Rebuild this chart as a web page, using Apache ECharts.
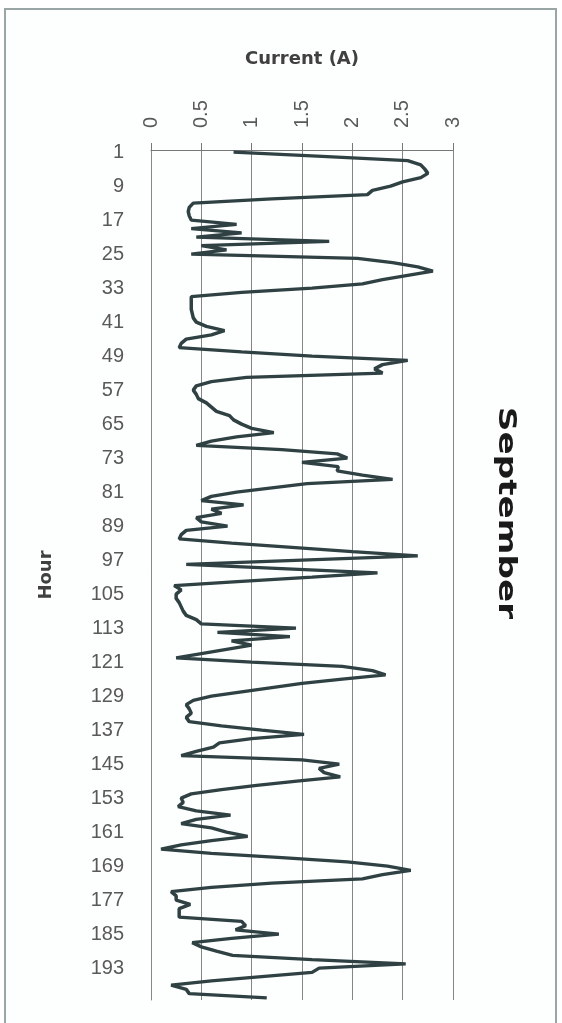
<!DOCTYPE html>
<html>
<head>
<meta charset="utf-8">
<script src="https://cdn.jsdelivr.net/npm/echarts@6/dist/echarts.min.js"></script>
<style>
  html, body { margin: 0; padding: 0; background: #fff; }
  #currentChart { width: 562px; height: 1023px; }
</style>
</head>
<body>
<div id="currentChart"></div>
<script>
// hourly current readings for September
var hours = [];
for (var h = 1; h <= 200; h++) hours.push(String(h));

var current = [
  0.82, 1.7, 2.55, 2.68, 2.72, 2.75, 2.68, 2.5, 2.38, 2.2,
  2.15, 1.2, 0.42, 0.38, 0.37, 0.38, 0.4, 0.85, 0.4, 0.9,
  0.45, 1.77, 0.5, 0.75, 0.4, 2.05, 2.4, 2.65, 2.8, 2.55,
  2.3, 2.1, 1.6, 0.9, 0.4, 0.4, 0.4, 0.4, 0.41, 0.42,
  0.45, 0.55, 0.73, 0.6, 0.35, 0.3, 0.28, 0.9, 1.6, 2.55,
  2.3, 2.22, 2.3, 0.95, 0.6, 0.45, 0.42, 0.45, 0.47, 0.55,
  0.6, 0.65, 0.78, 0.82, 0.9, 1.0, 1.22, 0.85, 0.6, 0.45,
  1.3, 1.85, 1.95, 1.5, 1.86, 1.85, 2.1, 2.4, 1.55, 1.2,
  0.85, 0.6, 0.5, 0.92, 0.6, 0.7, 0.45, 0.5, 0.76, 0.35,
  0.3, 0.28, 0.8, 1.4, 2.0, 2.65, 1.5, 0.35, 1.3, 2.25,
  1.6, 0.9, 0.23, 0.3, 0.25, 0.25, 0.28, 0.3, 0.32, 0.35,
  0.45, 0.5, 1.44, 0.66, 1.38, 0.8, 1.0, 0.75, 0.5, 0.25,
  1.0, 1.9, 2.2, 2.33, 1.9, 1.5, 1.2, 0.9, 0.6, 0.42,
  0.35, 0.38, 0.4, 0.35, 0.38, 0.7, 1.1, 1.52, 1.0, 0.68,
  0.62, 0.45, 0.3, 1.5, 1.87, 1.67, 1.72, 1.88, 1.45, 1.05,
  0.7, 0.4, 0.3, 0.32, 0.27, 0.45, 0.79, 0.45, 0.3, 0.6,
  0.75, 0.96, 0.6, 0.3, 0.1, 0.6, 1.3, 1.95, 2.35, 2.58,
  2.3, 2.1, 1.2, 0.6, 0.2, 0.25, 0.25, 0.39, 0.28, 0.28,
  0.28, 0.9, 0.94, 0.84, 1.27, 0.8, 0.41, 0.5, 0.65, 0.81,
  1.6, 2.53, 1.67, 1.6, 1.1, 0.6, 0.2, 0.35, 0.38, 1.15
];

var chart = echarts.init(document.getElementById('currentChart'));

var option = {
  backgroundColor: '#fff',
  animation: false,
  grid: {
    left: 151,
    right: 109,
    top: 150,
    bottom: 23
  },
  graphic: [
    {
      type: 'rect',
      silent: true,
      z: -10,
      shape: { x: 5, y: 9, width: 551, height: 1040 },
      style: { fill: '#fdfefe', stroke: '#9aa5a5', lineWidth: 2 }
    },
    {
      type: 'text',
      x: 505,
      y: 513,
      rotation: -Math.PI / 2,
      scaleX: 1.37,
      style: {
        text: 'September',
        font: 'bold 25px "DejaVu Sans"',
        fill: '#1a1a1a',
        textAlign: 'center',
        textVerticalAlign: 'middle'
      }
    }
  ],
  xAxis: {
    type: 'value',
    position: 'top',
    min: 0,
    max: 3,
    interval: 0.5,
    name: 'Current (A)',
    nameLocation: 'middle',
    nameGap: 82,
    nameTextStyle: {
      fontFamily: 'DejaVu Sans',
      fontWeight: 'bold',
      fontSize: 18,
      color: '#404040'
    },
    axisLine: { show: true, lineStyle: { color: '#777', width: 1 } },
    axisTick: { show: true, length: 7, lineStyle: { color: '#777' } },
    axisLabel: {
      rotate: -90,
      margin: 22,
      fontSize: 20,
      fontFamily: 'Liberation Sans',
      color: '#595959'
    },
    splitLine: { show: true, lineStyle: { color: '#858585', width: 1 } }
  },
  yAxis: {
    type: 'category',
    inverse: true,
    data: hours,
    boundaryGap: true,
    name: 'Hour',
    nameLocation: 'middle',
    nameRotate: 90,
    nameGap: 96,
    nameTextStyle: {
      fontFamily: 'DejaVu Sans',
      fontWeight: 'bold',
      fontSize: 18,
      color: '#404040'
    },
    axisLine: { show: true, lineStyle: { color: '#888', width: 1 } },
    axisTick: { show: false },
    axisLabel: {
      interval: 7,
      margin: 27,
      fontSize: 20,
      fontFamily: 'Liberation Sans',
      color: '#595959'
    },
    splitLine: { show: false }
  },
  series: [
    {
      name: 'Current',
      type: 'line',
      data: current,
      symbol: 'none',
      lineStyle: { color: '#2f4143', width: 3.5 }
    }
  ]
};

chart.setOption(option);
</script>
</body>
</html>
